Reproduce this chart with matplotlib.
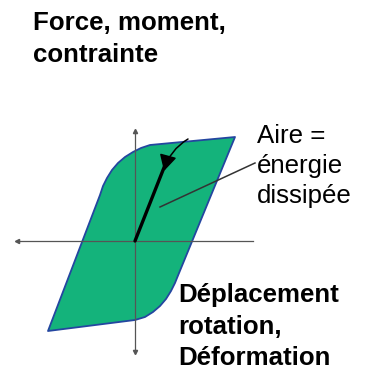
import matplotlib
matplotlib.use("Agg")
import matplotlib.pyplot as plt
import numpy as np

# ── Data: hysteresis loop (force vs displacement, arbitrary units, origin at 0) ──
loop_x = [100, 15, 6, -2, -10, -17, -23, -28, -32, -35,
          -87, 0, 10, 18, 25, 31, 36, 40, 42]
loop_y = [104, 96, 93, 89, 84, 78, 71, 63, 55, 46,
          -90, -79, -76, -71, -65, -58, -50, -42, -37]

# first loading branch (thick black line) and the arrow coming down on it
load_x = [0, 32]
load_y = [0, 81]
unload_start = (53, 102)
unload_end = (29, 70)

# axis extents
axis_x = [-118, 118]
axis_y = [-111, 110]

# labels
title_lines = ["Force, moment,", "contrainte"]
xlabel_lines = ["Déplacement", "rotation,", "Déformation"]
note_lines = ["Aire =", "énergie", "dissipée"]
note_target = (25, 34)
note_anchor = (120, 78)

C_FILL = "#14B37B"
C_EDGE = "#2446A0"
C_AXIS = "#555555"

plt.rcParams["font.family"] = ["Liberation Sans", "DejaVu Sans"]

fig = plt.figure(figsize=(3.66, 3.70), dpi=100)
ax = fig.add_axes([0, 0, 1, 1])
# 1 data unit = 1 pixel, origin where the axes cross
ax.set_xlim(-135, 231)
ax.set_ylim(-129, 241)
ax.axis("off")

# axes of the diagram
ax.plot([0, 0], axis_y, color=C_AXIS, lw=0.9, zorder=3)
ax.plot(axis_x[0], 0, marker="<", ms=3, color=C_AXIS, zorder=3)
ax.plot(0, axis_y[1], marker="^", ms=3, color=C_AXIS, zorder=3)
ax.plot(0, axis_y[0], marker="v", ms=3, color=C_AXIS, zorder=3)

# loop
ax.fill(loop_x, loop_y, facecolor=C_FILL, edgecolor=C_EDGE, lw=1.3,
        joinstyle="round", zorder=2)
ax.plot(axis_x, [0, 0], color=C_AXIS, lw=0.9, zorder=3)

# loading branch + arrow
ax.plot(load_x, load_y, color="black", lw=2.4, solid_capstyle="round", zorder=4)
ax.annotate("", xy=unload_end, xytext=unload_start,
            arrowprops=dict(arrowstyle="-|>,head_length=0.65,head_width=0.35",
                            mutation_scale=15, color="black", lw=1.1,
                            shrinkA=0, shrinkB=0,
                            connectionstyle="arc3,rad=0.2"),
            zorder=5)

# annotation line to "Aire = énergie dissipée"
ax.plot([note_target[0], note_anchor[0]], [note_target[1], note_anchor[1]],
        color="#333333", lw=1.1, zorder=4)


def put_lines(lines, x_px, base_px, step, weight):
    for i, s in enumerate(lines):
        ax.text(x_px - 135, 241 - (base_px + i * step), s, fontsize=18.6,
                fontweight=weight, ha="left", va="baseline", color="black")


put_lines(title_lines, 33, 30, 32, "bold")
put_lines(xlabel_lines, 178, 302, 31.5, "bold")
put_lines(note_lines, 257, 143, 30, "normal")

fig.savefig("out.png", dpi=100)
